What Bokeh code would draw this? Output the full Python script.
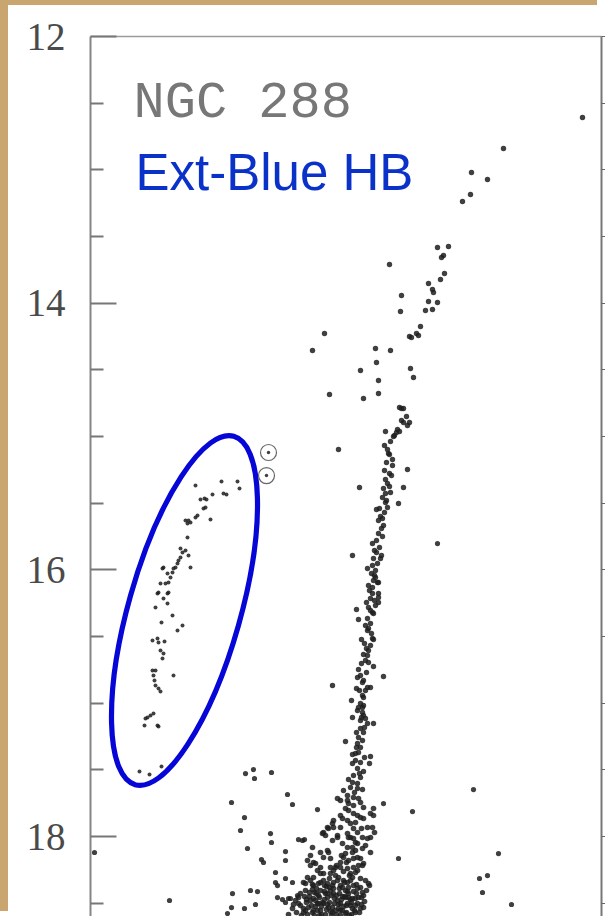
from bokeh.plotting import figure
from bokeh.models import Range1d, LinearAxis, FixedTicker, CustomJSTickFormatter
from bokeh.core.properties import value
from bokeh.embed import file_html
from bokeh.resources import INLINE

# ---------------- data (B-V colour, V magnitude) ----------------
MAJOR_TICKS = [12, 14, 16, 18]
MINOR_TICKS = [12.5, 13, 13.5, 14.5, 15, 15.5, 16.5, 17, 17.5, 18.5]

TITLE = "NGC 288"
SUBTITLE = "Ext-Blue HB"

HB_STARS = [
    (-0.030, 15.368), (0.074, 15.338), (0.138, 15.338), (0.146, 15.390), (0.038, 15.435),
    (0.082, 15.428), (0.094, 15.435), (-0.010, 15.473), (0.006, 15.465), (0.014, 15.473),
    (0.002, 15.540), (0.010, 15.533), (0.030, 15.623), (-0.022, 15.593), (-0.030, 15.608),
    (-0.070, 15.630), (-0.058, 15.630), (-0.050, 15.645), (-0.062, 15.653), (-0.062, 15.758),
    (-0.090, 15.840), (-0.082, 15.870), (-0.090, 15.908), (-0.098, 15.930), (-0.102, 15.953),
    (-0.110, 15.983), (-0.118, 15.990), (-0.122, 16.020), (-0.058, 15.893), (-0.050, 15.983),
    (-0.070, 15.855), (-0.158, 15.983), (-0.162, 15.990), (-0.142, 16.028), (-0.170, 16.103),
    (-0.150, 16.103), (-0.138, 16.095), (-0.130, 16.058), (-0.182, 16.178), (-0.178, 16.170),
    (-0.142, 16.178), (-0.138, 16.170), (-0.158, 16.215), (-0.142, 16.253), (-0.190, 16.283),
    (-0.122, 16.343), (-0.166, 16.395), (-0.102, 16.455), (-0.082, 16.418), (-0.202, 16.530),
    (-0.182, 16.515), (-0.178, 16.545), (-0.154, 16.538), (-0.170, 16.605), (-0.158, 16.628),
    (-0.162, 16.665), (-0.118, 16.793), (-0.202, 16.755), (-0.190, 16.755), (-0.198, 16.793),
    (-0.194, 16.830), (-0.190, 16.868), (-0.178, 16.890), (-0.170, 16.913), (-0.230, 17.115),
    (-0.222, 17.108), (-0.210, 17.093), (-0.198, 17.078), (-0.234, 17.168), (-0.182, 17.168),
    (-0.178, 17.175), (-0.254, 17.513), (-0.214, 17.535), (-0.166, 17.475),
]

CIRCLED_STARS = [(0.262, 15.120), (0.254, 15.293)]

RGB_STARS = [
    (1.518, 12.608), (1.202, 12.840), (1.074, 13.020), (1.138, 13.073), (1.070, 13.185),
    (1.038, 13.238), (0.938, 13.583), (0.982, 13.575), (0.962, 13.643), (0.954, 13.658),
    (0.746, 13.710), (0.966, 13.778), (0.950, 13.823), (0.902, 13.853), (0.918, 13.898),
    (0.922, 13.920), (0.794, 13.943), (0.902, 13.988), (0.938, 13.995), (0.790, 14.063),
    (0.890, 14.055), (0.918, 14.048), (0.870, 14.175), (0.826, 14.250), (0.834, 14.258),
    (0.854, 14.228), (0.862, 14.243), (0.486, 14.228), (0.438, 14.355), (0.690, 14.340),
    (0.750, 14.355), (0.694, 14.445), (0.630, 14.505), (0.830, 14.490), (0.842, 14.558),
    (0.702, 14.580), (0.506, 14.685), (0.702, 14.678), (0.642, 14.715), (0.786, 14.783),
    (0.794, 14.790), (0.802, 14.790), (0.814, 14.850), (0.794, 14.880), (0.802, 14.895),
    (0.826, 14.895), (0.818, 14.918), (0.730, 14.963), (0.778, 14.948), (0.774, 14.970),
    (0.766, 14.993), (0.542, 15.098), (0.738, 15.098), (0.786, 14.963), (0.762, 15.000),
    (0.742, 15.128), (0.746, 15.135), (0.758, 15.173), (0.758, 15.218), (0.818, 15.248),
    (0.746, 15.278), (0.754, 15.293), (0.730, 15.323), (0.626, 15.383), (0.802, 15.383),
    (0.738, 15.353), (0.746, 15.375), (0.722, 15.390), (0.730, 15.428), (0.734, 15.480),
    (0.730, 15.495), (0.782, 15.503), (0.738, 15.533), (0.694, 15.548), (0.706, 15.540),
    (0.710, 15.600), (0.718, 15.615), (0.722, 15.668), (0.702, 15.728), (0.718, 15.750),
    (0.678, 15.803), (0.706, 15.833), (0.598, 15.893), (0.714, 15.893), (0.710, 15.915),
    (0.682, 15.915), (0.658, 15.990), (0.698, 15.953), (0.690, 16.005), (0.690, 16.058),
    (0.682, 16.080), (0.698, 16.095), (0.702, 16.095), (0.678, 16.133), (0.666, 16.155),
    (0.678, 16.178), (0.702, 16.178), (0.702, 16.208), (0.670, 16.215), (0.702, 16.245),
    (0.690, 16.268), (0.662, 16.283), (0.614, 16.298), (0.682, 16.328), (0.678, 16.320),
    (0.658, 16.365), (0.622, 16.373), (0.670, 16.403), (0.662, 16.440), (0.658, 16.455),
    (0.634, 16.523), (0.678, 16.515), (0.682, 16.523), (0.670, 16.568), (0.662, 16.605),
    (0.642, 16.635), (0.658, 16.643), (0.650, 16.680), (0.662, 16.695), (0.682, 16.725),
    (0.622, 16.748), (0.722, 16.800), (0.618, 16.808), (0.642, 16.830), (0.638, 16.845),
    (0.658, 16.883), (0.670, 16.883), (0.614, 16.890), (0.518, 16.868), (0.638, 16.943),
    (0.642, 16.958), (0.594, 16.980), (0.630, 17.003), (0.642, 17.018), (0.618, 17.055),
    (0.638, 17.070), (0.598, 17.108), (0.642, 17.093), (0.650, 17.115), (0.638, 17.033),
    (0.630, 17.130), (0.658, 17.153), (0.682, 17.153), (0.630, 17.190), (0.642, 17.220),
    (0.622, 17.258), (0.570, 17.288), (0.618, 17.303), (0.630, 17.333), (0.622, 17.370),
    (0.610, 17.378), (0.598, 17.385), (0.670, 17.400), (0.666, 17.453), (0.610, 17.430),
    (0.630, 17.445), (0.618, 17.490), (0.642, 17.513), (0.602, 17.543), (0.630, 17.558),
    (0.598, 17.595), (0.618, 17.603), (0.590, 17.633), (0.618, 17.640), (0.638, 17.648),
    (0.726, 15.068), (0.750, 15.038), (0.734, 15.195), (0.726, 15.255), (0.750, 15.420),
    (0.718, 15.458), (0.726, 15.570), (0.702, 15.630), (0.714, 15.690), (0.694, 15.780),
    (0.686, 15.855), (0.694, 15.870), (0.678, 15.968), (0.674, 16.028), (0.686, 16.043),
    (0.662, 16.118), (0.686, 16.230), (0.654, 16.245), (0.670, 16.305), (0.650, 16.418),
    (0.674, 16.478), (0.646, 16.553), (0.654, 16.590), (0.634, 16.703), (0.654, 16.770),
    (0.630, 16.793), (0.650, 16.905), (0.626, 16.905), (0.622, 17.033), (0.634, 17.108),
    (0.646, 17.183), (0.614, 17.220), (0.638, 17.280), (0.614, 17.333), (0.646, 17.408),
    (0.598, 17.453), (0.626, 17.528), (0.582, 17.573), (0.606, 17.670), (0.562, 17.655),
]

MSTO_STARS = [
    (0.578, 17.693), (0.602, 17.708), (0.538, 17.715), (0.550, 17.730), (0.578, 17.730),
    (0.582, 17.753), (0.622, 17.715), (0.630, 17.745), (0.682, 17.790), (0.682, 17.843),
    (0.570, 17.790), (0.582, 17.805), (0.602, 17.828), (0.618, 17.843), (0.642, 17.783),
    (0.550, 17.843), (0.558, 17.865), (0.518, 17.903), (0.522, 17.933), (0.578, 17.880),
    (0.590, 17.903), (0.630, 17.858), (0.642, 17.865), (0.550, 17.933), (0.502, 17.940),
    (0.678, 17.933), (0.686, 17.970), (0.602, 17.940), (0.618, 17.970), (0.578, 17.978),
    (0.590, 18.008), (0.482, 17.970), (0.490, 17.993), (0.538, 18.008), (0.518, 18.030),
    (0.602, 18.015), (0.610, 18.045), (0.638, 18.008), (0.658, 18.015), (0.670, 18.008),
    (0.438, 18.083), (0.430, 18.143), (0.470, 18.120), (0.482, 18.158), (0.502, 18.120),
    (0.578, 18.083), (0.598, 18.083), (0.610, 18.105), (0.670, 18.120), (0.562, 18.158),
    (0.582, 18.180), (0.602, 18.165), (0.618, 18.158), (0.638, 18.218), (0.418, 18.180),
    (0.430, 18.218), (0.442, 18.195), (0.458, 18.255), (0.470, 18.233), (0.482, 18.278),
    (0.510, 18.233), (0.522, 18.255), (0.550, 18.233), (0.578, 18.240), (0.602, 18.233),
    (0.618, 18.255), (0.590, 18.278), (0.418, 18.308), (0.430, 18.330), (0.402, 18.345),
    (0.442, 18.368), (0.470, 18.345), (0.498, 18.353), (0.522, 18.345), (0.550, 18.368),
    (0.578, 18.345), (0.602, 18.368), (0.630, 18.383), (0.666, 18.368), (0.582, 18.458),
    (0.578, 18.503), (0.642, 18.533), (0.390, 18.518), (0.410, 18.555), (0.430, 18.480),
    (0.438, 18.570), (0.450, 18.525), (0.462, 18.443), (0.470, 18.555), (0.478, 18.495),
    (0.490, 18.585), (0.498, 18.458), (0.502, 18.533), (0.510, 18.405), (0.518, 18.570),
    (0.526, 18.503), (0.534, 18.443), (0.542, 18.540), (0.550, 18.593), (0.554, 18.473),
    (0.562, 18.525), (0.570, 18.405), (0.574, 18.570), (0.582, 18.428), (0.590, 18.518),
    (0.594, 18.585), (0.598, 18.465), (0.606, 18.555), (0.614, 18.428), (0.618, 18.503),
    (0.626, 18.570), (0.634, 18.458), (0.426, 18.420), (0.454, 18.390), (0.486, 18.413),
    (0.546, 18.390), (0.374, 18.570), (0.358, 18.540), (0.342, 18.585), (0.406, 18.450),
    (0.442, 18.465), (0.522, 18.428), (0.610, 18.465), (0.590, 18.330), (0.662, 18.353),
    (0.642, 18.203), (0.638, 18.090), (0.658, 17.933), (0.670, 17.828), (0.602, 17.768),
    (0.558, 18.053), (0.570, 18.128), (0.550, 18.195), (0.530, 18.233), (0.510, 18.278),
    (0.542, 18.308), (0.482, 18.330), (0.518, 18.368), (0.558, 18.383), (0.470, 18.405),
    (0.498, 18.428), (0.570, 18.458), (0.450, 18.480), (0.482, 18.503), (0.518, 18.533),
    (0.550, 18.555), (0.458, 18.555), (0.422, 18.533), (0.402, 18.570), (0.478, 17.978),
    (0.498, 17.933), (0.522, 17.880), (0.538, 17.993), (0.498, 18.105), (0.450, 18.203),
    (0.442, 18.308), (0.410, 18.353), (0.470, 18.278), (0.510, 18.165),
    (0.382, 18.503), (0.394, 18.593), (0.414, 18.473), (0.418, 18.585), (0.434, 18.518),
    (0.446, 18.420), (0.446, 18.593), (0.458, 18.503), (0.466, 18.458), (0.474, 18.525),
    (0.486, 18.473), (0.494, 18.548), (0.494, 18.375), (0.506, 18.495), (0.514, 18.443),
    (0.514, 18.593), (0.522, 18.390), (0.530, 18.555), (0.538, 18.480), (0.546, 18.428),
    (0.550, 18.503), (0.558, 18.555), (0.566, 18.450), (0.566, 18.345), (0.574, 18.518),
    (0.582, 18.383), (0.586, 18.593), (0.590, 18.473), (0.598, 18.540), (0.602, 18.413),
    (0.610, 18.518), (0.614, 18.360), (0.622, 18.458), (0.630, 18.540), (0.638, 18.420),
    (0.646, 18.488), (0.654, 18.405), (0.586, 18.293), (0.562, 18.263), (0.610, 18.270),
    (0.630, 18.315), (0.538, 18.330), (0.506, 18.315), (0.462, 18.353), (0.438, 18.398),
    (0.410, 18.405), (0.390, 18.428), (0.370, 18.480), (0.362, 18.510), (0.534, 18.218),
    (0.574, 18.195), (0.622, 18.218), (0.554, 18.143), (0.598, 18.120), (0.630, 18.165),
    (0.650, 18.068), (0.618, 18.053), (0.582, 18.008), (0.634, 17.940), (0.610, 17.895),
    (0.402, 18.540), (0.426, 18.450), (0.442, 18.555), (0.462, 18.503), (0.474, 18.585),
    (0.490, 18.428), (0.498, 18.510), (0.510, 18.563), (0.526, 18.465), (0.534, 18.585),
    (0.542, 18.510), (0.558, 18.450), (0.570, 18.578), (0.578, 18.413), (0.594, 18.495),
    (0.610, 18.570), (0.618, 18.390), (0.634, 18.510), (0.642, 18.443), (0.414, 18.495),
    (0.454, 18.428), (0.506, 18.383), (0.562, 18.330), (0.598, 18.308), (0.650, 18.330),
    (0.530, 18.293), (0.486, 18.368), (0.438, 18.360), (0.382, 18.458), (0.466, 18.593),
]

FIELD_STARS = [
    (0.170, 17.528), (0.202, 17.498), (0.206, 17.565), (0.274, 17.520), (0.338, 17.685),
    (0.358, 17.760), (0.114, 17.745), (0.458, 17.798), (0.166, 17.858), (0.150, 17.955),
    (0.270, 17.978), (0.274, 18.045), (0.178, 18.090), (0.330, 18.113), (0.330, 18.180),
    (0.234, 18.173), (0.242, 18.195), (0.382, 18.023), (0.398, 18.030), (0.406, 18.023),
    (0.290, 18.270), (0.290, 18.345), (0.298, 18.368), (0.330, 18.315), (0.358, 18.345),
    (0.118, 18.428), (0.190, 18.405), (0.218, 18.413), (0.210, 18.510), (0.166, 18.540),
    (0.114, 18.533), (0.098, 18.578), (0.298, 18.458), (0.318, 18.473), (0.330, 18.495),
    (0.342, 18.465), (0.378, 18.443), (0.350, 18.465), (-0.434, 18.120), (-0.134, 18.480),
    (0.722, 17.753), (0.838, 17.813), (0.782, 18.165), (1.082, 17.648), (1.182, 18.128),
    (1.106, 18.315), (1.138, 18.293), (1.118, 18.420), (1.234, 18.510), (0.938, 15.803),
]

# ---------------- annotation geometry ----------------
HB_ELLIPSE_CENTER = (-0.074, 16.305)
HB_ELLIPSE_W_PX = 362
HB_ELLIPSE_H_PX = 112
HB_ELLIPSE_ANGLE = 74.2

TAN = "#c9a66f"

p = figure(width=597, height=911, output_backend="svg", toolbar_location=None,
           x_range=Range1d(-0.45, 1.594), y_range=Range1d(18.6, 12.0),
           x_axis_location=None, y_axis_location=None,
           min_border_left=82, min_border_right=4, min_border_top=31, min_border_bottom=0)
p.xgrid.visible = False
p.ygrid.visible = False
p.outline_line_color = None
p.background_fill_color = "white"
p.border_fill_color = "white"
# place the plot 8 px from the left and 5 px from the top; the tan strips are its shadow
p.margin = (5, 0, 0, 8)
p.styles = {"box-shadow": f"-8px -5px 0px 0px {TAN}"}

empty_fmt = CustomJSTickFormatter(code="return ''")

left = LinearAxis(ticker=FixedTicker(ticks=MAJOR_TICKS, minor_ticks=MINOR_TICKS))
left.axis_line_color = "#858585"
left.axis_line_width = 2
left.major_tick_in = 26
left.major_tick_out = 0
left.minor_tick_in = 13
left.minor_tick_out = 0
left.major_tick_line_color = "#777777"
left.major_tick_line_width = 2
left.minor_tick_line_color = "#777777"
left.minor_tick_line_width = 2
left.major_label_text_font = "Liberation Serif"
left.major_label_text_font_size = "39px"
left.major_label_text_color = "#4a4a4a"
left.major_label_standoff = 25
p.add_layout(left, "left")

right = LinearAxis(ticker=FixedTicker(ticks=MAJOR_TICKS, minor_ticks=MINOR_TICKS), formatter=empty_fmt)
right.axis_line_color = "#777777"
right.axis_line_width = 2
right.major_tick_in = 0
right.major_tick_out = 4
right.minor_tick_in = 0
right.minor_tick_out = 4
right.major_tick_line_color = "#666666"
right.minor_tick_line_color = "#666666"
right.major_label_standoff = 0
p.add_layout(right, "right")

top = LinearAxis(ticker=FixedTicker(ticks=[]), formatter=empty_fmt)
top.axis_line_color = "#9a9a9a"
top.axis_line_width = 1.5
top.major_label_standoff = 0
p.add_layout(top, "above")

# HB ellipse
p.ellipse(x=[HB_ELLIPSE_CENTER[0]], y=[HB_ELLIPSE_CENTER[1]],
          width=HB_ELLIPSE_W_PX, height=HB_ELLIPSE_H_PX, width_units="screen", height_units="screen",
          angle=HB_ELLIPSE_ANGLE, angle_units="deg",
          fill_color=None, line_color="#0606d6", line_width=5.2)

def xs(stars):
    return [s[0] for s in stars]

def ys(stars):
    return [s[1] for s in stars]

dot = dict(fill_color="#1e1e1e", line_color=None, fill_alpha=0.85)
p.scatter(xs(RGB_STARS), ys(RGB_STARS), size=5.4, **dot)
p.scatter(xs(MSTO_STARS), ys(MSTO_STARS), size=5.6, **dot)
p.scatter(xs(FIELD_STARS), ys(FIELD_STARS), size=5.2, **dot)
p.scatter(xs(HB_STARS), ys(HB_STARS), size=4.0, **dot)
p.scatter(xs(CIRCLED_STARS), ys(CIRCLED_STARS), size=3.4, **dot)
p.scatter(xs(CIRCLED_STARS), ys(CIRCLED_STARS), marker="circle", size=16,
          fill_color=None, line_color="#666666", line_width=1.2)

p.text(x=[-0.278], y=[12.5025], text=[TITLE], text_font=value("Liberation Mono"),
       text_font_size="52px", text_color="#777777", text_baseline="alphabetic")
p.text(x=[-0.27], y=[13.02], text=[SUBTITLE], text_font=value("Liberation Sans"),
       text_font_size="51px", text_color="#0a32c8", text_baseline="alphabetic")

open("out.html", "w").write(file_html(p, INLINE))
